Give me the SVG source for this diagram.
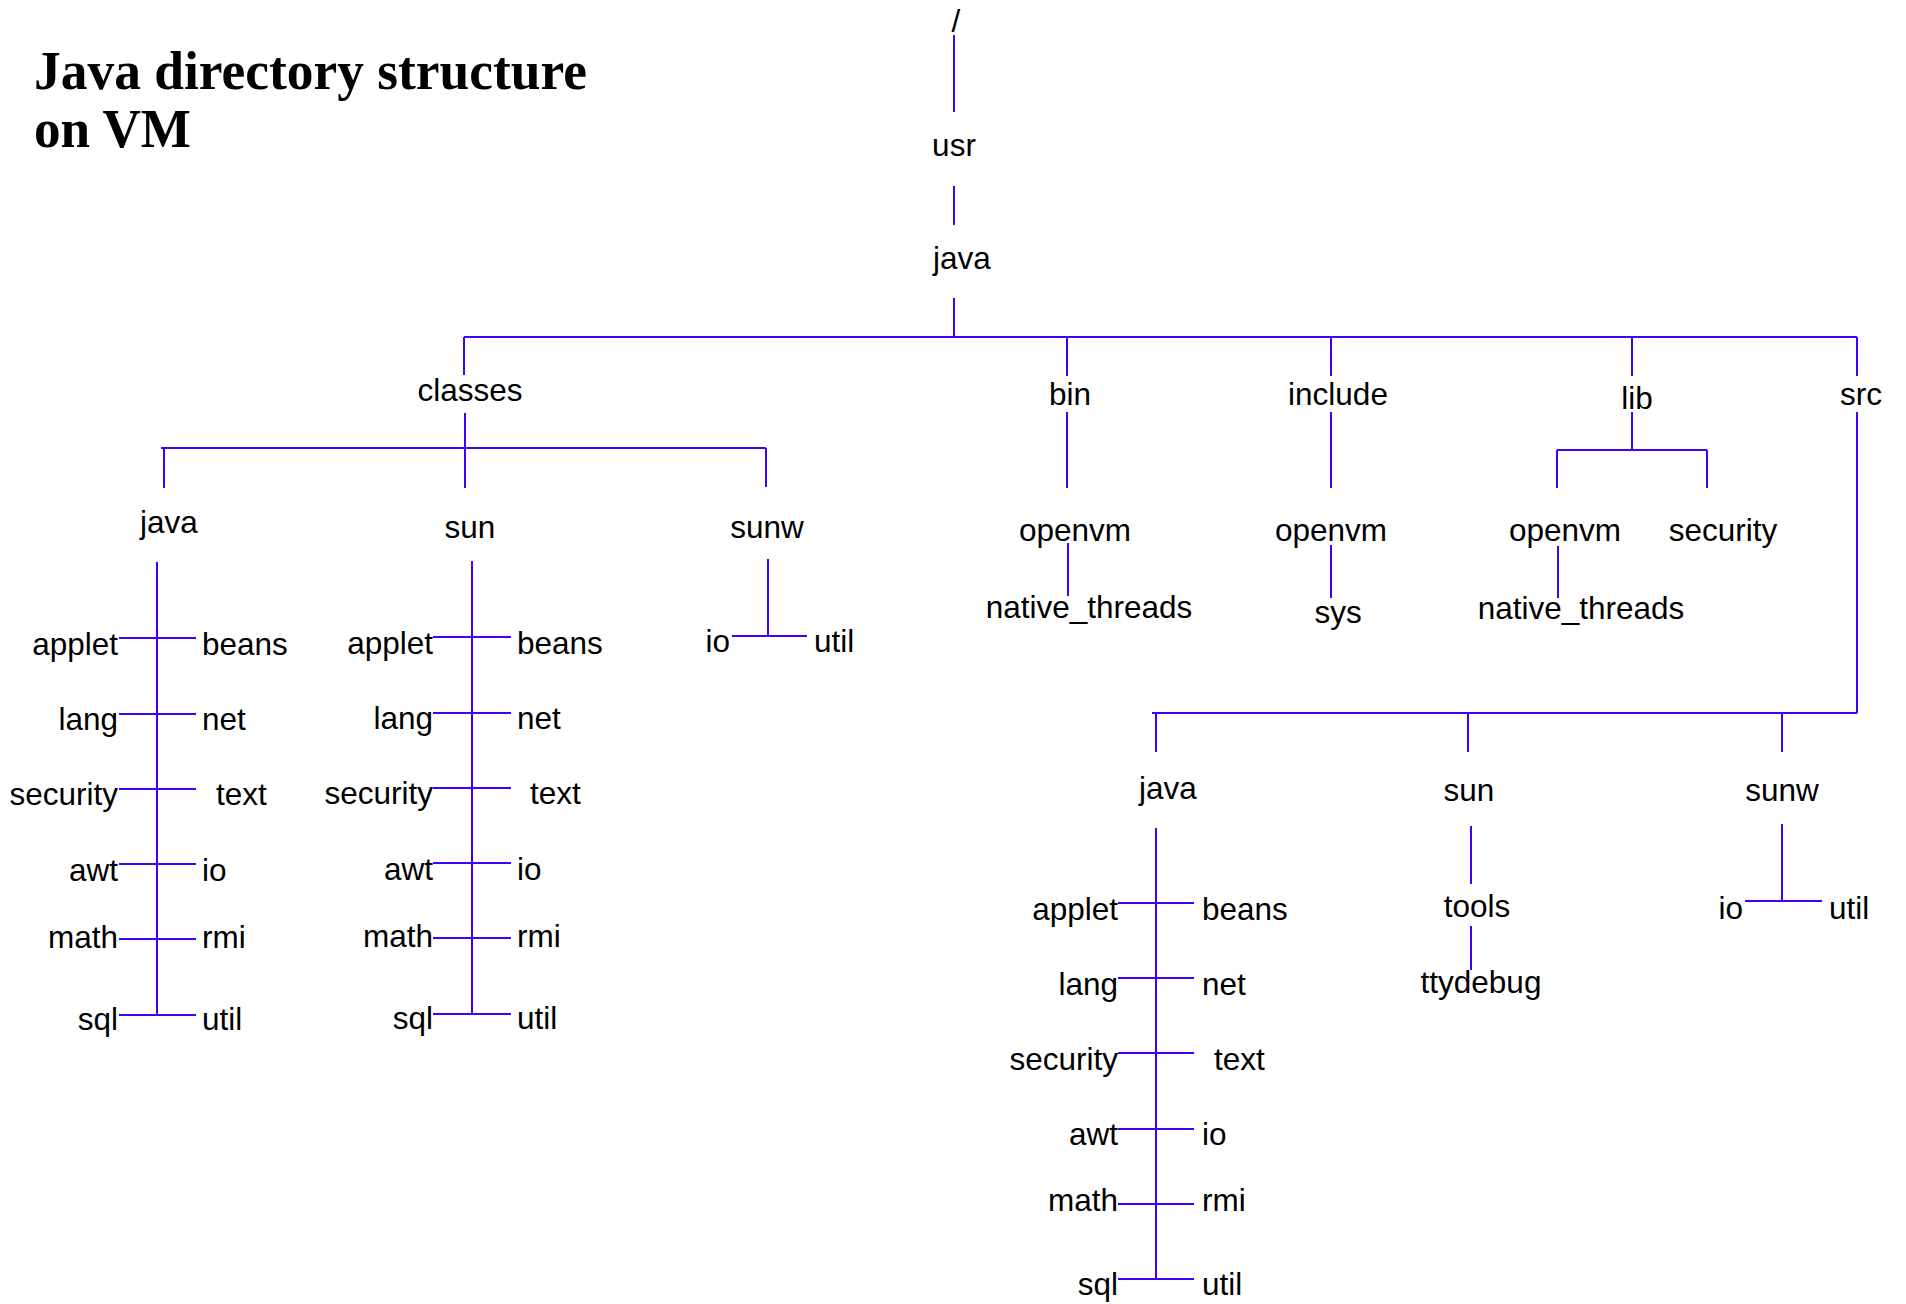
<svg xmlns="http://www.w3.org/2000/svg" width="1906" height="1304" viewBox="0 0 1906 1304">
<style>
.title{font-family:"Liberation Serif","Times New Roman",serif;font-weight:bold;font-size:55px;fill:#000}
.t{font-family:"Liberation Sans",Arial,sans-serif;font-size:31.5px;fill:#000}
.m{text-anchor:middle}
.e{text-anchor:end}
.c{stroke:#4000ff;stroke-width:2;fill:none}
</style>
<rect width="1906" height="1304" fill="#fff"/>
<g id="title">
<text class="title" x="34" y="89" textLength="553" lengthAdjust="spacingAndGlyphs">Java directory structure</text>
<text class="title" x="34" y="147" textLength="157" lengthAdjust="spacingAndGlyphs">on VM</text>
</g>
<g id="connectors" class="c">
<path d="M954 35V112M954 186V225M954 298V337M464 337H1857M464 337V375M1067 337V376M1331 337V376M1632 337V376M1857 337V376"/>
<path d="M465 413V488M161 448H766M164 448V488M766 448V487"/>
<path d="M157 562V1015M119 638H196M119 714H196M119 789H196M119 864H196M119 939H196M119 1015H196"/>
<path d="M472 561V1014M433 637H511M433 713H511M433 788H511M433 863H511M433 938H511M433 1014H511"/>
<path d="M768 559V636M732 636H807"/>
<path d="M1067 412V488M1068 543V596"/>
<path d="M1331 412V488M1331 545V598"/>
<path d="M1632 412V450M1557 450H1707M1557 450V488M1707 450V488M1558 546V598"/>
<path d="M1857 412V713M1152 713H1857M1156 713V752M1468 713V752M1782 713V752"/>
<path d="M1156 828V1279M1118 903H1194M1118 978H1194M1118 1053H1194M1118 1129H1194M1118 1204H1194M1118 1279H1194"/>
<path d="M1471 826V884M1471 926V970"/>
<path d="M1782 824V901M1745 901H1822"/>
</g>
<g id="n-root"><text class="t m" x="956" y="32">/</text></g>
<g id="n-usr"><text class="t m" x="954" y="156">usr</text></g>
<g id="n-java"><text class="t m" x="962" y="269">java</text></g>
<g id="n-classes"><text class="t m" x="470" y="401">classes</text></g>
<g id="n-bin"><text class="t m" x="1070" y="405">bin</text></g>
<g id="n-include"><text class="t m" x="1338" y="405">include</text></g>
<g id="n-lib"><text class="t m" x="1637" y="409">lib</text></g>
<g id="n-src"><text class="t m" x="1861" y="405">src</text></g>
<g id="n-classes-java"><text class="t m" x="169" y="533">java</text></g>
<g id="n-classes-sun"><text class="t m" x="470" y="538">sun</text></g>
<g id="n-classes-sunw"><text class="t m" x="767" y="538">sunw</text></g>
<g id="n-classes-java-children">
<text class="t e" x="118" y="655">applet</text><text class="t" x="202" y="655">beans</text>
<text class="t e" x="118" y="730">lang</text><text class="t" x="202" y="730">net</text>
<text class="t e" x="118" y="805">security</text><text class="t" x="216" y="805">text</text>
<text class="t e" x="118" y="881">awt</text><text class="t" x="202" y="881">io</text>
<text class="t e" x="118" y="948">math</text><text class="t" x="202" y="948">rmi</text>
<text class="t e" x="118" y="1030">sql</text><text class="t" x="202" y="1030">util</text>
</g>
<g id="n-classes-sun-children">
<text class="t e" x="433" y="654">applet</text><text class="t" x="517" y="654">beans</text>
<text class="t e" x="433" y="729">lang</text><text class="t" x="517" y="729">net</text>
<text class="t e" x="433" y="804">security</text><text class="t" x="530" y="804">text</text>
<text class="t e" x="433" y="880">awt</text><text class="t" x="517" y="880">io</text>
<text class="t e" x="433" y="947">math</text><text class="t" x="517" y="947">rmi</text>
<text class="t e" x="433" y="1029">sql</text><text class="t" x="517" y="1029">util</text>
</g>
<g id="n-classes-sunw-children">
<text class="t e" x="730" y="652">io</text><text class="t" x="814" y="652">util</text>
</g>
<g id="n-bin-openvm"><text class="t m" x="1075" y="541">openvm</text></g>
<g id="n-bin-native"><text class="t m" x="1089" y="618">native_threads</text></g>
<g id="n-include-openvm"><text class="t m" x="1331" y="541">openvm</text></g>
<g id="n-include-sys"><text class="t m" x="1338" y="623">sys</text></g>
<g id="n-lib-openvm"><text class="t m" x="1565" y="541">openvm</text></g>
<g id="n-lib-security"><text class="t m" x="1723" y="541">security</text></g>
<g id="n-lib-native"><text class="t m" x="1581" y="619">native_threads</text></g>
<g id="n-src-java"><text class="t m" x="1168" y="799">java</text></g>
<g id="n-src-sun"><text class="t m" x="1469" y="801">sun</text></g>
<g id="n-src-sunw"><text class="t m" x="1782" y="801">sunw</text></g>
<g id="n-src-java-children">
<text class="t e" x="1118" y="920">applet</text><text class="t" x="1202" y="920">beans</text>
<text class="t e" x="1118" y="995">lang</text><text class="t" x="1202" y="995">net</text>
<text class="t e" x="1118" y="1070">security</text><text class="t" x="1214" y="1070">text</text>
<text class="t e" x="1118" y="1145">awt</text><text class="t" x="1202" y="1145">io</text>
<text class="t e" x="1118" y="1211">math</text><text class="t" x="1202" y="1211">rmi</text>
<text class="t e" x="1118" y="1295">sql</text><text class="t" x="1202" y="1295">util</text>
</g>
<g id="n-src-sun-tools"><text class="t m" x="1477" y="917">tools</text></g>
<g id="n-src-sun-ttydebug"><text class="t m" x="1481" y="993">ttydebug</text></g>
<g id="n-src-sunw-children">
<text class="t e" x="1743" y="919">io</text><text class="t" x="1829" y="919">util</text>
</g>
</svg>
